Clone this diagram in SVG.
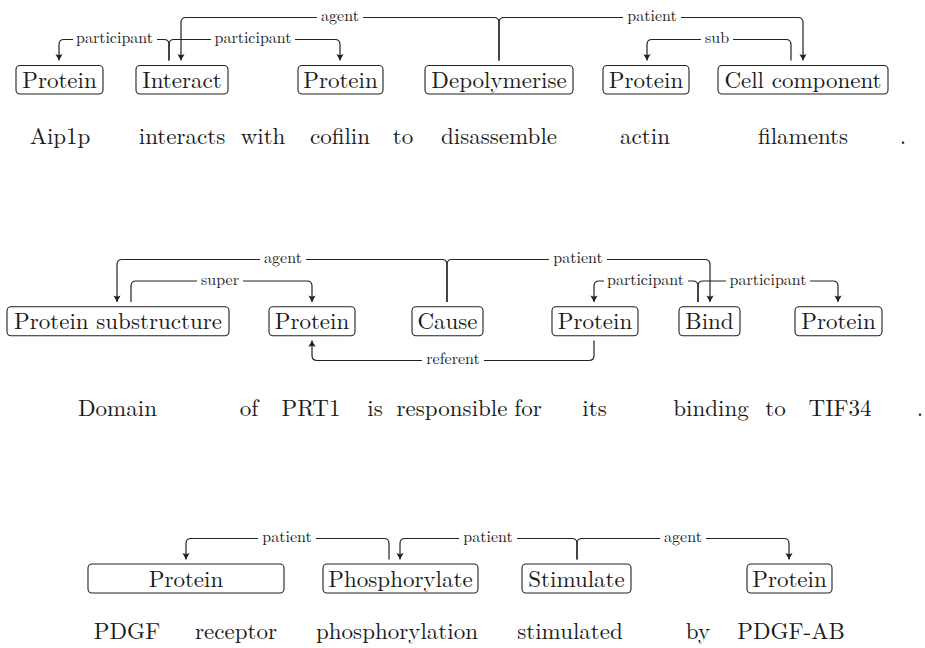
<svg xmlns="http://www.w3.org/2000/svg" width="925" height="648" viewBox="0 0 925 648" font-family="'Latin Modern Roman', 'Liberation Serif', serif">
<style>
text{fill:#1a1a1a}
.box{fill:#fff;stroke:#222;stroke-width:1.1}
.nt{font-size:23px;text-anchor:middle}
.w{font-size:23px;text-anchor:middle}
.lbl{font-size:16px;text-anchor:middle}
.bg{fill:#fff}
.c{fill:none;stroke:#222;stroke-width:1.2}
.a{marker-end:url(#ah)}
</style>
<defs>
<marker id="ah" markerUnits="userSpaceOnUse" markerWidth="12" markerHeight="10" viewBox="-7 -5 8 10" refX="0" refY="0" orient="auto">
<path d="M0,0 L-6.5,-3.6 Q-4.5,0 -6.5,3.6 Z" fill="#222"/>
</marker>
</defs>

<!-- Sentence 1 -->
<g id="connectors1" font-family="'Latin Modern Roman', 'Liberation Serif', serif">
<path class="c a" d="M169,60.5 V44.5 Q169,39.5 164,39.5 H64 Q59,39.5 59,44.5 V60.5"/>
<path class="c a" d="M169,60.5 V44.5 Q169,39.5 174,39.5 H335 Q340,39.5 340,44.5 V60.5"/>
<path class="c a" d="M499,60.5 V22.5 Q499,17.5 494,17.5 H186 Q181,17.5 181,22.5 V60.5"/>
<path class="c a" d="M499,60.5 V22.5 Q499,17.5 504,17.5 H798 Q803,17.5 803,22.5 V60.5"/>
<path class="c a" d="M791,60.5 V44.5 Q791,39.5 786,39.5 H652 Q647,39.5 647,44.5 V60.5"/>
<rect class="bg" x="73" y="32" width="84" height="15"/><text class="lbl" x="114.5" y="43">participant</text>
<rect class="bg" x="211" y="32" width="84" height="15"/><text class="lbl" x="253" y="43">participant</text>
<rect class="bg" x="317" y="10" width="46" height="15"/><text class="lbl" x="340" y="21">agent</text>
<rect class="bg" x="623" y="10" width="58" height="15"/><text class="lbl" x="652" y="21">patient</text>
<rect class="bg" x="701" y="32" width="32" height="15"/><text class="lbl" x="717" y="43">sub</text>
</g>
<g id="n1-protein-a" font-family="'Latin Modern Roman', 'Liberation Serif', serif"><rect class="box" x="16" y="65.5" width="87" height="28.5" rx="4"/><text class="nt" x="59.5" y="87.5">Protein</text></g>
<g id="n1-interact" font-family="'Latin Modern Roman', 'Liberation Serif', serif"><rect class="box" x="136" y="65.5" width="92" height="28.5" rx="4"/><text class="nt" x="182" y="87.5">Interact</text></g>
<g id="n1-protein-b" font-family="'Latin Modern Roman', 'Liberation Serif', serif"><rect class="box" x="298" y="65.5" width="85" height="28.5" rx="4"/><text class="nt" x="340.5" y="87.5">Protein</text></g>
<g id="n1-depolymerise" font-family="'Latin Modern Roman', 'Liberation Serif', serif"><rect class="box" x="425" y="65.5" width="148" height="28.5" rx="4"/><text class="nt" x="499" y="87.5">Depolymerise</text></g>
<g id="n1-protein-c" font-family="'Latin Modern Roman', 'Liberation Serif', serif"><rect class="box" x="603" y="65.5" width="86" height="28.5" rx="4"/><text class="nt" x="646" y="87.5">Protein</text></g>
<g id="n1-cellcomponent" font-family="'Latin Modern Roman', 'Liberation Serif', serif"><rect class="box" x="718" y="65.5" width="170" height="28.5" rx="4"/><text class="nt" x="803" y="87.5">Cell component</text></g>
<g id="tokens1" font-family="'Latin Modern Roman', 'Liberation Serif', serif">
<text class="w" x="60" y="144">Aip1p</text>
<text class="w" x="182" y="144">interacts</text>
<text class="w" x="263" y="144">with</text>
<text class="w" x="340" y="144">cofilin</text>
<text class="w" x="403" y="144">to</text>
<text class="w" x="499" y="144">disassemble</text>
<text class="w" x="645" y="144">actin</text>
<text class="w" x="803" y="144">filaments</text>
<text class="w" x="903" y="144">.</text>
</g>

<!-- Sentence 2 -->
<g id="connectors2" font-family="'Latin Modern Roman', 'Liberation Serif', serif">
<path class="c a" d="M447,302 V264.5 Q447,259.5 442,259.5 H122 Q117,259.5 117,264.5 V302"/>
<path class="c a" d="M447,302 V264.5 Q447,259.5 452,259.5 H705 Q710,259.5 710,264.5 V302"/>
<path class="c a" d="M131,302 V286 Q131,281 136,281 H307 Q312,281 312,286 V302"/>
<path class="c a" d="M698,302 V286 Q698,281 693,281 H599 Q594,281 594,286 V302"/>
<path class="c a" d="M698,302 V286 Q698,281 703,281 H833 Q838,281 838,286 V302"/>
<path class="c a" d="M594,340.5 V355.5 Q594,360.5 589,360.5 H317 Q312,360.5 312,355.5 V340.5"/>
<rect class="bg" x="260" y="252" width="46" height="15"/><text class="lbl" x="283" y="263">agent</text>
<rect class="bg" x="549" y="252" width="58" height="15"/><text class="lbl" x="578" y="263">patient</text>
<rect class="bg" x="197" y="273.5" width="46" height="15"/><text class="lbl" x="220" y="284.5">super</text>
<rect class="bg" x="604" y="273.5" width="84" height="15"/><text class="lbl" x="645.5" y="284.5">participant</text>
<rect class="bg" x="726" y="273.5" width="84" height="15"/><text class="lbl" x="768" y="284.5">participant</text>
<rect class="bg" x="422" y="353" width="62" height="15"/><text class="lbl" x="453" y="364">referent</text>
</g>
<g id="n2-proteinsubstructure" font-family="'Latin Modern Roman', 'Liberation Serif', serif"><rect class="box" x="7" y="306.7" width="222" height="29" rx="4"/><text class="nt" x="118" y="329">Protein substructure</text></g>
<g id="n2-protein-a" font-family="'Latin Modern Roman', 'Liberation Serif', serif"><rect class="box" x="269" y="306.7" width="86" height="29" rx="4"/><text class="nt" x="312" y="329">Protein</text></g>
<g id="n2-cause" font-family="'Latin Modern Roman', 'Liberation Serif', serif"><rect class="box" x="412" y="306.7" width="71" height="29" rx="4"/><text class="nt" x="447.5" y="329">Cause</text></g>
<g id="n2-protein-b" font-family="'Latin Modern Roman', 'Liberation Serif', serif"><rect class="box" x="552" y="306.7" width="86" height="29" rx="4"/><text class="nt" x="595" y="329">Protein</text></g>
<g id="n2-bind" font-family="'Latin Modern Roman', 'Liberation Serif', serif"><rect class="box" x="679" y="306.7" width="61" height="29" rx="4"/><text class="nt" x="709.5" y="329">Bind</text></g>
<g id="n2-protein-c" font-family="'Latin Modern Roman', 'Liberation Serif', serif"><rect class="box" x="795" y="306.7" width="87" height="29" rx="4"/><text class="nt" x="838.5" y="329">Protein</text></g>
<g id="tokens2" font-family="'Latin Modern Roman', 'Liberation Serif', serif">
<text class="w" x="117.5" y="416">Domain</text>
<text class="w" x="249" y="416">of</text>
<text class="w" x="311" y="416">PRT1</text>
<text class="w" x="375" y="416">is</text>
<text class="w" x="452" y="416">responsible</text>
<text class="w" x="528" y="416">for</text>
<text class="w" x="594.5" y="416">its</text>
<text class="w" x="711" y="416">binding</text>
<text class="w" x="775.5" y="416">to</text>
<text class="w" x="840" y="416">TIF34</text>
<text class="w" x="920" y="416">.</text>
</g>

<!-- Sentence 3 -->
<g id="connectors3" font-family="'Latin Modern Roman', 'Liberation Serif', serif">
<path class="c a" d="M389,559.5 V543.5 Q389,538.5 384,538.5 H191 Q186,538.5 186,543.5 V559.5"/>
<path class="c a" d="M577,559.5 V543.5 Q577,538.5 572,538.5 H405 Q400,538.5 400,543.5 V559.5"/>
<path class="c a" d="M577,559.5 V543.5 Q577,538.5 582,538.5 H784 Q789,538.5 789,543.5 V559.5"/>
<rect class="bg" x="258" y="531" width="58" height="15"/><text class="lbl" x="287" y="542">patient</text>
<rect class="bg" x="459" y="531" width="58" height="15"/><text class="lbl" x="488" y="542">patient</text>
<rect class="bg" x="660" y="531" width="46" height="15"/><text class="lbl" x="683" y="542">agent</text>
</g>
<g id="n3-protein-a" font-family="'Latin Modern Roman', 'Liberation Serif', serif"><rect class="box" x="88" y="564" width="196" height="29" rx="4"/><text class="nt" x="186" y="586.5">Protein</text></g>
<g id="n3-phosphorylate" font-family="'Latin Modern Roman', 'Liberation Serif', serif"><rect class="box" x="323" y="564" width="155" height="29" rx="4"/><text class="nt" x="400.5" y="586.5">Phosphorylate</text></g>
<g id="n3-stimulate" font-family="'Latin Modern Roman', 'Liberation Serif', serif"><rect class="box" x="522" y="564" width="109" height="29" rx="4"/><text class="nt" x="576.5" y="586.5">Stimulate</text></g>
<g id="n3-protein-b" font-family="'Latin Modern Roman', 'Liberation Serif', serif"><rect class="box" x="747" y="564" width="85" height="29" rx="4"/><text class="nt" x="789.5" y="586.5">Protein</text></g>
<g id="tokens3" font-family="'Latin Modern Roman', 'Liberation Serif', serif">
<text class="w" x="127" y="639">PDGF</text>
<text class="w" x="236" y="639">receptor</text>
<text class="w" x="397" y="639">phosphorylation</text>
<text class="w" x="570" y="639">stimulated</text>
<text class="w" x="698" y="639">by</text>
<text class="w" x="791" y="639">PDGF-AB</text>
</g>
</svg>
